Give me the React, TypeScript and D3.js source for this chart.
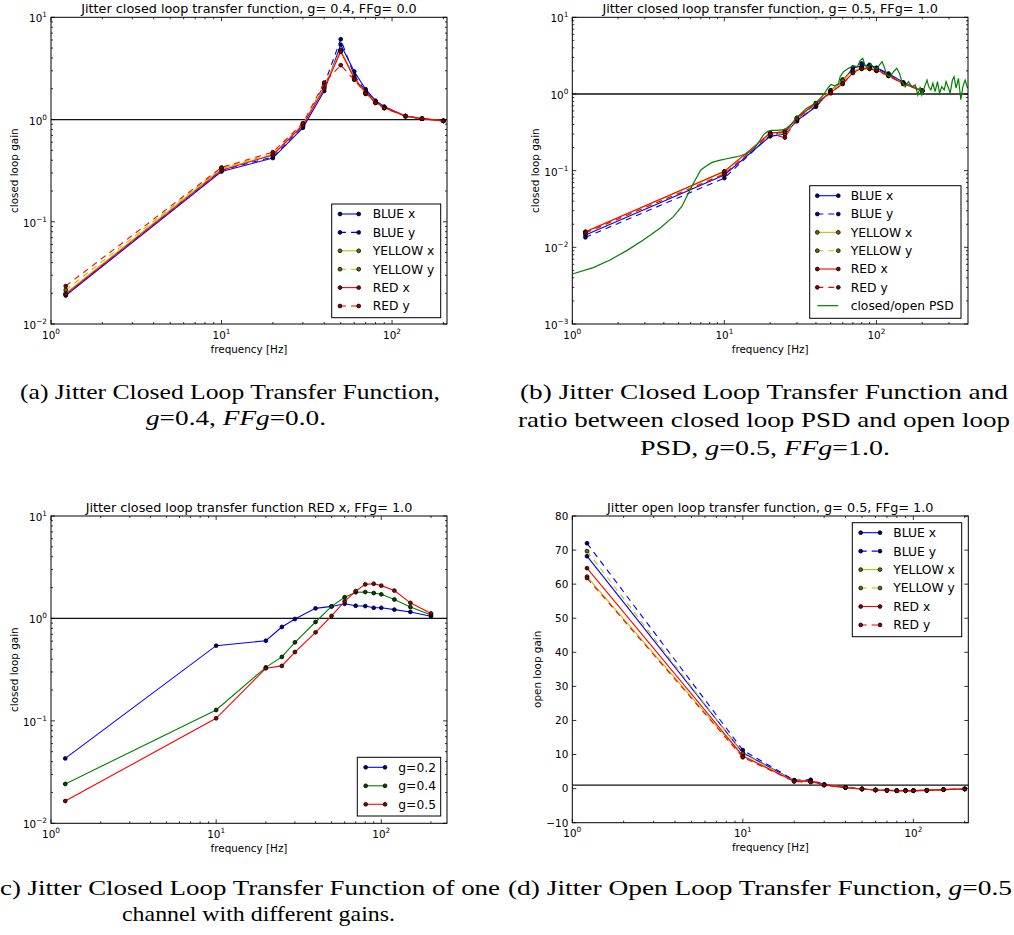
import React from 'react';
import * as d3 from 'd3';

// ---------------- data ----------------
const freqA = [1.22, 10, 20, 30, 40, 50, 60, 70, 80, 90, 120, 150, 200];
const aBlueX = [0.019, 0.31, 0.42, 0.83, 1.9, 5.4, 2.95, 1.98, 1.53, 1.34, 1.08, 1.02, 0.97];
const aBlueY = [0.0195, 0.32, 0.43, 0.86, 2.2, 6.1, 2.7, 1.9, 1.5, 1.32, 1.08, 1.02, 0.97];
const aYellowX = [0.02, 0.33, 0.45, 0.88, 2.1, 4.8, 2.6, 1.8, 1.47, 1.3, 1.08, 1.02, 0.97];
const aYellowY = [0.0215, 0.335, 0.46, 0.9, 2.05, 4.7, 2.5, 1.78, 1.46, 1.3, 1.08, 1.02, 0.97];
const aRedX = [0.0195, 0.32, 0.45, 0.88, 2.0, 4.6, 2.55, 1.85, 1.48, 1.31, 1.08, 1.02, 0.97];
const aRedY = [0.0235, 0.34, 0.48, 0.92, 2.3, 3.4, 2.45, 1.8, 1.45, 1.29, 1.08, 1.02, 0.97];

const freqAll = [1.22, 10, 20, 25, 30, 40, 50, 60, 70, 80, 90, 100, 120, 150, 200];
const bBlueX = [0.0145, 0.088, 0.28, 0.3, 0.45, 0.68, 1.12, 1.45, 2.2, 2.3, 2.4, 2.2, 1.85, 1.42, 1.1];
const bBlueY = [0.0135, 0.08, 0.29, 0.32, 0.44, 0.7, 1.1, 1.5, 2.2, 2.5, 2.35, 2.15, 1.8, 1.4, 1.1];
const bYellowX = [0.0158, 0.097, 0.3, 0.33, 0.48, 0.74, 1.1, 1.55, 2.0, 2.2, 2.2, 2.05, 1.75, 1.38, 1.1];
const bYellowY = [0.0152, 0.092, 0.31, 0.3, 0.47, 0.73, 1.08, 1.5, 1.95, 2.15, 2.15, 2.0, 1.72, 1.36, 1.1];
const bRedX = [0.016, 0.098, 0.31, 0.32, 0.49, 0.76, 1.05, 1.35, 1.9, 2.15, 2.15, 2.05, 1.75, 1.36, 1.1];
const bRedY = [0.0155, 0.09, 0.3, 0.27, 0.47, 0.75, 1.02, 1.38, 1.88, 2.12, 2.12, 2.02, 1.72, 1.35, 1.1];

const psdFreq = [
  1.0, 1.375, 1.77, 2.28, 2.93, 3.77, 4.62, 5.24, 5.65, 6.1, 6.58, 7.0, 7.6, 8.3, 9.4, 10.2, 12.1, 14.0,
  15.5, 16.3, 17.2, 18.1, 19.3, 20.5, 22.1, 24.4, 25.5, 27.7, 30.1, 34.8, 40.1, 44.8, 48, 50.3, 53, 56.2,
  57.7, 60.7, 65.5, 70.6, 75, 78.1, 81.3, 83.9, 87.3, 91.9, 95.5, 100.6, 104.7, 109, 112.3, 117, 123,
  129.4, 136, 141.6, 146.9, 154.5, 162.5, 171, 180, 187, 194, 199, 206, 215, 221, 228, 235, 243, 252,
  260, 269, 279, 287, 298, 305, 316, 324, 334, 346, 359, 370, 383, 397,
];
const psdGain = [
  0.00449, 0.00543, 0.00684, 0.00906, 0.01247, 0.0177, 0.0251, 0.0339, 0.0458, 0.062, 0.082, 0.102, 0.115,
  0.128, 0.137, 0.142, 0.152, 0.166, 0.19, 0.215, 0.25, 0.295, 0.325, 0.335, 0.335, 0.342, 0.355, 0.41,
  0.5, 0.65, 0.77, 0.97, 1.2, 1.33, 1.28, 1.35,
  1.68, 1.95, 2.16, 2.32, 2.27, 2.72, 2.92, 2.39, 2.16, 2.46, 2.23, 2.1, 2.39, 2.64, 2.27, 1.77, 1.68,
  1.95, 2.16, 1.86, 1.45, 1.24, 1.45, 1.24, 1.31, 0.97, 1.24, 0.97, 1.19, 1.52, 1.24, 1.13, 1.38, 1.07,
  1.45, 1.02, 1.24, 1.13, 1.45, 1.19, 1.02, 1.52, 1.68, 1.19, 1.6, 0.84, 1.24, 1.52, 1.19,
];

const cGain02 = [0.043, 0.542, 0.606, 0.825, 0.987, 1.255, 1.31, 1.39, 1.33, 1.32, 1.27, 1.27, 1.22, 1.157, 1.05];
const cGain04 = [0.0242, 0.1276, 0.333, 0.421, 0.585, 0.923, 1.31, 1.61, 1.8, 1.81, 1.77, 1.72, 1.53, 1.29, 1.08];
const cGain05 = [0.0165, 0.106, 0.326, 0.344, 0.47, 0.731, 1.057, 1.47, 1.85, 2.15, 2.18, 2.09, 1.87, 1.42, 1.12];

const dBlueX = [68.2, 10.5, 2.4, 2.3, 1.2, 0.35, -0.1, -0.4, -0.5, -0.6, -0.6, -0.6, -0.5, -0.3, -0.1];
const dBlueY = [72.0, 11.3, 2.5, 2.6, 1.2, 0.35, -0.1, -0.4, -0.5, -0.6, -0.6, -0.6, -0.5, -0.3, -0.1];
const dYellowX = [62.2, 9.5, 2.2, 2.0, 1.1, 0.3, -0.1, -0.4, -0.5, -0.6, -0.6, -0.6, -0.5, -0.3, -0.1];
const dYellowY = [69.7, 10.3, 2.3, 2.2, 1.1, 0.3, -0.1, -0.4, -0.5, -0.6, -0.6, -0.6, -0.5, -0.3, -0.1];
const dRedX = [64.7, 9.6, 2.2, 2.2, 1.1, 0.3, -0.1, -0.4, -0.5, -0.6, -0.6, -0.6, -0.5, -0.3, -0.1];
const dRedY = [61.8, 9.2, 2.1, 1.9, 1.0, 0.3, -0.1, -0.4, -0.5, -0.6, -0.6, -0.6, -0.5, -0.3, -0.1];
const dLinearTicks = [-10, 0, 10, 20, 30, 40, 50, 60, 70, 80];

const sixLabels = ['BLUE x', 'BLUE y', 'YELLOW x', 'YELLOW y', 'RED x', 'RED y'];
const BLUE = '#0000ff';
const YELLOW = '#bfbf00';
const RED = '#ff0000';
const GREEN = '#008000';
const sixColors = [BLUE, BLUE, YELLOW, YELLOW, RED, RED];

// ---------------- types ----------------
type Series = { label: string; color: string; dashed?: boolean; xs: number[]; ys: number[]; markers: boolean; width?: number };
type Legend = { x: number; y: number; w: number; h: number; row0: number; step: number; lx0: number; lx1: number; tx: number };
type PanelCfg = {
  id: string; left: number; top: number; width: number; height: number;
  xDomain: [number, number]; yLog: boolean; yDomain: [number, number]; yTicks?: number[];
  title: string; ylabel: string; ylabelX: number; series: Series[]; hline: number; legend: Legend;
};

const SANS = 'DejaVu Sans';

function logTicks(lo: number, hi: number) {
  const majors: number[] = [];
  const minors: number[] = [];
  for (let k = Math.floor(Math.log10(lo)); k <= Math.ceil(Math.log10(hi)); k++) {
    const b = Math.pow(10, k);
    if (b >= lo * 0.999 && b <= hi * 1.001) majors.push(k);
    for (let m = 2; m <= 9; m++) {
      const v = m * b;
      if (v > lo * 1.0001 && v < hi * 0.9999) minors.push(v);
    }
  }
  return { majors, minors };
}

function expStr(k: number) {
  return k < 0 ? '\u2212' + Math.abs(k) : String(k);
}

function markerFill(color: string) {
  const c = d3.color(color);
  return c ? c.darker(1.6).formatHex() : '#000';
}

function Panel({ c }: { c: PanelCfg }) {
  const right = c.left + c.width;
  const bottom = c.top + c.height;
  const x = d3.scaleLog().domain(c.xDomain).range([c.left, right]);
  const y: (v: number) => number = c.yLog
    ? d3.scaleLog().domain(c.yDomain).range([bottom, c.top])
    : d3.scaleLinear().domain(c.yDomain).range([bottom, c.top]);
  const line = d3.line<[number, number]>().x((d) => x(d[0])).y((d) => y(d[1]));
  const xt = logTicks(c.xDomain[0], c.xDomain[1]);
  const yt = c.yLog ? logTicks(c.yDomain[0], c.yDomain[1]) : null;
  const clipId = 'clip-' + c.id;
  const MAJ = 4;
  const MIN = 2;
  const tickStroke = { stroke: '#000', strokeWidth: 0.8 };

  return (
    <g>
      <defs>
        <clipPath id={clipId}>
          <rect x={c.left} y={c.top} width={c.width} height={c.height} />
        </clipPath>
      </defs>
      <rect x={c.left} y={c.top} width={c.width} height={c.height} fill="#fff" />
      <line x1={c.left} x2={right} y1={y(c.hline)} y2={y(c.hline)} stroke="#111" strokeWidth={1.3} />
      <g clipPath={`url(#${clipId})`}>
        {c.series.map((s, i) => {
          const pts = s.xs.map((xv, j) => [xv, s.ys[j]] as [number, number]);
          return (
            <g key={i}>
              <path d={line(pts) || ''} fill="none" stroke={s.color} strokeWidth={s.width ?? 1.1}
                strokeDasharray={s.dashed ? '6,5' : undefined} />
              {s.markers && pts.map((p, j) => (
                <circle key={j} cx={x(p[0])} cy={y(p[1])} r={1.9} fill={markerFill(s.color)} stroke="#000" strokeWidth={0.8} />
              ))}
            </g>
          );
        })}
      </g>
      <rect x={c.left} y={c.top} width={c.width} height={c.height} fill="none" stroke="#000" strokeWidth={1} />
      {xt.majors.map((k) => {
        const px = x(Math.pow(10, k));
        return (
          <g key={'xM' + k}>
            <line x1={px} x2={px} y1={bottom} y2={bottom - MAJ} {...tickStroke} />
            <line x1={px} x2={px} y1={c.top} y2={c.top + MAJ} {...tickStroke} />
            <text x={px} y={bottom + 14.5} fontFamily={SANS} fontSize={10.4} textAnchor="middle">
              10<tspan dy={-5} fontSize={7.3}>{expStr(k)}</tspan>
            </text>
          </g>
        );
      })}
      {xt.minors.map((v, i) => {
        const px = x(v);
        return (
          <g key={'xm' + i}>
            <line x1={px} x2={px} y1={bottom} y2={bottom - MIN} {...tickStroke} />
            <line x1={px} x2={px} y1={c.top} y2={c.top + MIN} {...tickStroke} />
          </g>
        );
      })}
      {yt && yt.majors.map((k) => {
        const py = y(Math.pow(10, k));
        return (
          <g key={'yM' + k}>
            <line x1={c.left} x2={c.left + MAJ} y1={py} y2={py} {...tickStroke} />
            <line x1={right} x2={right - MAJ} y1={py} y2={py} {...tickStroke} />
            <text x={c.left - 4} y={py + 5} fontFamily={SANS} fontSize={10.4} textAnchor="end">
              10<tspan dy={-5} fontSize={7.3}>{expStr(k)}</tspan>
            </text>
          </g>
        );
      })}
      {yt && yt.minors.map((v, i) => {
        const py = y(v);
        return (
          <g key={'ym' + i}>
            <line x1={c.left} x2={c.left + MIN} y1={py} y2={py} {...tickStroke} />
            <line x1={right} x2={right - MIN} y1={py} y2={py} {...tickStroke} />
          </g>
        );
      })}
      {!yt && (c.yTicks || []).map((v) => {
        const py = y(v);
        return (
          <g key={'yl' + v}>
            <line x1={c.left} x2={c.left + MAJ} y1={py} y2={py} {...tickStroke} />
            <line x1={right} x2={right - MAJ} y1={py} y2={py} {...tickStroke} />
            <text x={c.left - 4} y={py + 3.8} fontFamily={SANS} fontSize={10.4} textAnchor="end">
              {v < 0 ? '\u2212' + Math.abs(v) : String(v)}
            </text>
          </g>
        );
      })}
      <text x={(c.left + right) / 2} y={c.top - 4} fontFamily={SANS} fontSize={12.8} textAnchor="middle">{c.title}</text>
      <text x={(c.left + right) / 2} y={bottom + 28.5} fontFamily={SANS} fontSize={10.4} textAnchor="middle">frequency [Hz]</text>
      <text transform={`translate(${c.ylabelX},${(c.top + bottom) / 2}) rotate(-90)`} fontFamily={SANS} fontSize={10.4} textAnchor="middle">{c.ylabel}</text>
      <rect x={c.legend.x} y={c.legend.y} width={c.legend.w} height={c.legend.h} fill="#fff" stroke="#000" strokeWidth={1} />
      {c.series.map((s, i) => {
        const ry = c.legend.row0 + i * c.legend.step;
        return (
          <g key={'lg' + i}>
            <line x1={c.legend.lx0} x2={c.legend.lx1} y1={ry} y2={ry} stroke={s.color} strokeWidth={s.width ?? 1.1}
              strokeDasharray={s.dashed ? '6,5' : undefined} />
            {s.markers && [c.legend.lx0, c.legend.lx1].map((lx, j) => (
              <circle key={j} cx={lx} cy={ry} r={1.9} fill={markerFill(s.color)} stroke="#000" strokeWidth={0.8} />
            ))}
            <text x={c.legend.tx} y={ry + 4.4} fontFamily={SANS} fontSize={12.3}>{s.label}</text>
          </g>
        );
      })}
    </g>
  );
}

function sixSeries(xs: number[], data: number[][]): Series[] {
  return data.map((ys, i) => ({ label: sixLabels[i], color: sixColors[i], dashed: i % 2 === 1, xs, ys, markers: true }));
}

const panelA: PanelCfg = {
  id: 'a', left: 51, top: 17.3, width: 396, height: 306.7,
  xDomain: [1, 210], yLog: true, yDomain: [0.01, 10],
  title: 'Jitter closed loop transfer function, g= 0.4, FFg= 0.0', ylabel: 'closed loop gain', ylabelX: 18,
  series: sixSeries(freqA, [aBlueX, aBlueY, aYellowX, aYellowY, aRedX, aRedY]), hline: 1,
  legend: { x: 331.7, y: 204, w: 109, h: 113.7, row0: 214, step: 18.4, lx0: 340, lx1: 358.7, tx: 372.7 },
};

const panelB: PanelCfg = {
  id: 'b', left: 572.3, top: 17.3, width: 395.7, height: 306.7,
  xDomain: [1, 400], yLog: true, yDomain: [0.001, 10],
  title: 'Jitter closed loop transfer function, g= 0.5, FFg= 1.0', ylabel: 'closed loop gain', ylabelX: 539.3,
  series: [
    ...sixSeries(freqAll, [bBlueX, bBlueY, bYellowX, bYellowY, bRedX, bRedY]),
    { label: 'closed/open PSD', color: GREEN, xs: psdFreq, ys: psdGain, markers: false, width: 1.2 },
  ],
  hline: 1,
  legend: { x: 809.7, y: 185.7, w: 151.3, h: 132.6, row0: 195.7, step: 18.33, lx0: 817.3, lx1: 838.3, tx: 850.7 },
};

const panelC: PanelCfg = {
  id: 'c', left: 51, top: 516, width: 396, height: 307.3,
  xDomain: [1, 250], yLog: true, yDomain: [0.01, 10],
  title: 'Jitter closed loop transfer function RED x, FFg= 1.0', ylabel: 'closed loop gain', ylabelX: 18,
  series: [
    { label: 'g=0.2', color: BLUE, xs: freqAll, ys: cGain02, markers: true },
    { label: 'g=0.4', color: GREEN, xs: freqAll, ys: cGain04, markers: true },
    { label: 'g=0.5', color: RED, xs: freqAll, ys: cGain05, markers: true },
  ],
  hline: 1,
  legend: { x: 357.3, y: 757.3, w: 83.4, h: 58.7, row0: 767.3, step: 18.5, lx0: 365.7, lx1: 385, tx: 398.3 },
};

const panelD: PanelCfg = {
  id: 'd', left: 572.3, top: 516, width: 396, height: 306.7,
  xDomain: [1, 210], yLog: false, yDomain: [-10, 80], yTicks: dLinearTicks,
  title: 'Jitter open loop transfer function, g= 0.5, FFg= 1.0', ylabel: 'open loop gain', ylabelX: 541,
  series: sixSeries(freqAll, [dBlueX, dBlueY, dYellowX, dYellowY, dRedX, dRedY]), hline: 1,
  legend: { x: 852.3, y: 522.7, w: 109.4, h: 114, row0: 532.7, step: 18.45, lx0: 860.7, lx1: 880, tx: 893.3 },
};

const SERIF = 'Liberation Serif';
const capStyle = { fontFamily: SERIF, fontSize: 22 };

export default function App() {
  return (
    <div style={{ position: 'absolute', left: 0, top: 0 }}>
      <svg width={1014} height={935} style={{ display: 'block', background: '#fff' }}>
        <Panel c={panelA} />
        <Panel c={panelB} />
        <Panel c={panelC} />
        <Panel c={panelD} />
        <text x={20} y={399} {...capStyle} textLength={420} lengthAdjust="spacingAndGlyphs">(a) Jitter Closed Loop Transfer Function,</text>
        <text x={146} y={425} {...capStyle} textLength={180} lengthAdjust="spacingAndGlyphs">
          <tspan fontStyle="italic">g</tspan>=0.4, <tspan fontStyle="italic">FFg</tspan>=0.0.
        </text>
        <text x={520} y={399} {...capStyle} textLength={488} lengthAdjust="spacingAndGlyphs">(b) Jitter Closed Loop Transfer Function and</text>
        <text x={518} y={427} {...capStyle} textLength={492} lengthAdjust="spacingAndGlyphs">ratio between closed loop PSD and open loop</text>
        <text x={640} y={455} {...capStyle} textLength={250} lengthAdjust="spacingAndGlyphs">
          PSD, <tspan fontStyle="italic">g</tspan>=0.5, <tspan fontStyle="italic">FFg</tspan>=1.0.
        </text>
        <text x={-9} y={895} {...capStyle} textLength={509} lengthAdjust="spacingAndGlyphs">(c) Jitter Closed Loop Transfer Function of one</text>
        <text x={122} y={921} {...capStyle} textLength={273} lengthAdjust="spacingAndGlyphs">channel with different gains.</text>
        <text x={508} y={895} {...capStyle} textLength={504} lengthAdjust="spacingAndGlyphs">
          (d) Jitter Open Loop Transfer Function, <tspan fontStyle="italic">g</tspan>=0.5
        </text>
      </svg>
    </div>
  );
}
